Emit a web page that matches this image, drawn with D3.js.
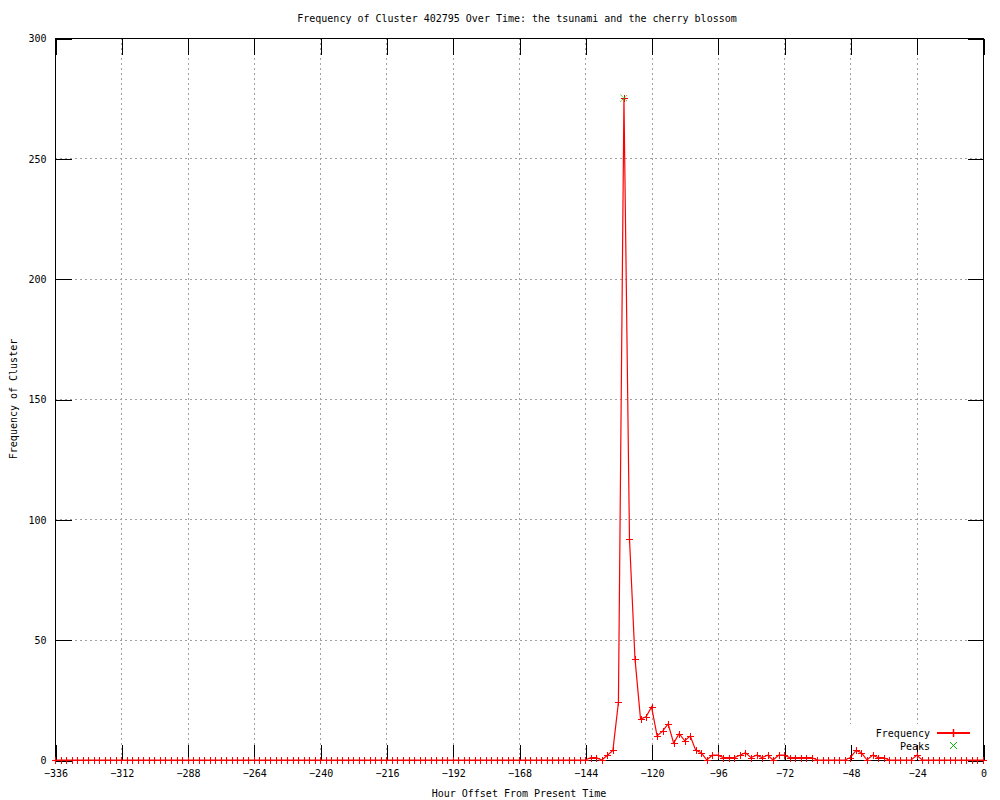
<!DOCTYPE html>
<html>
<head>
<meta charset="utf-8">
<script src="https://cdn.jsdelivr.net/npm/d3@7"></script>
<style>
  html, body { margin: 0; padding: 0; background: #fff; }
  svg { display: block; }
  text { font-family: "DejaVu Sans Mono", "Liberation Mono", monospace; font-size: 10px; fill: #000; }
</style>
</head>
<body>
<svg id="chart" width="1000" height="800"></svg>
<script>
// ---- data ----
const titleText = "Frequency of Cluster 402795 Over Time: the tsunami and the cherry blossom";
const xLabelText = "Hour Offset From Present Time";
const yLabelText = "Frequency of Cluster";
const xTickValues = [-336, -312, -288, -264, -240, -216, -192, -168, -144, -120, -96, -72, -48, -24, 0];
const yTickValues = [0, 50, 100, 150, 200, 250, 300];
const hours = d3.range(-336, 1, 2); // category positions: every 2 hours
const frequency = [
  0,0,0,0,0,0,0,0,0,0,0,0,0,0,0,0,0,0,0,0,0,0,0,0,
  0,0,0,0,0,0,0,0,0,0,0,0,0,0,0,0,0,0,0,0,0,0,0,0,
  0,0,0,0,0,0,0,0,0,0,0,0,0,0,0,0,0,0,0,0,0,0,0,0,
  0,0,0,0,0,0,0,0,0,0,0,0,0,0,0,0,0,0,0,0,0,0,0,0,
  0,1,1,0,2,4,24,275,92,42,17,18,
  22,10,12,15,7,11,8,10,4,3,0,2,
  2,1,1,1,2,3,1,2,1,2,0,2,
  2,1,1,1,1,1,0,0,0,0,0,0,
  1,4,3,0,2,1,1,0,0,0,0,0,
  2,0,0,0,0,0,0,0,0,0,0,0,
  0
];
const peakHours = [-130];
const peakValues = [275];

// ---- layout ----
const svg = d3.select("#chart");
const L = 55, R = 983, T = 38, B = 760;
const x = d3.scaleLinear().domain([-336, 0]).range([L, R]);
const y = d3.scaleLinear().domain([0, 300]).range([B, T]);
const tickLen = 16;

const data = hours.map((h, i) => ({h, v: frequency[i]}));
const peaks = peakHours.map((h, i) => ({h, v: peakValues[i]}));

// grid
const grid = svg.append("g").attr("stroke", "#a0a0a0").attr("stroke-width", 1)
  .attr("stroke-dasharray", "2,3").attr("shape-rendering", "crispEdges");
xTickValues.filter(v => v !== -336 && v !== 0).forEach(v => {
  grid.append("line").attr("x1", Math.round(x(v)) + 0.5).attr("x2", Math.round(x(v)) + 0.5)
    .attr("y1", T).attr("y2", B);
});
yTickValues.filter(v => v !== 0 && v !== 300).forEach(v => {
  grid.append("line").attr("y1", Math.round(y(v)) + 0.5).attr("y2", Math.round(y(v)) + 0.5)
    .attr("x1", L).attr("x2", R);
});

// key area blanks the grid
svg.append("rect").attr("x", 846).attr("y", 724).attr("width", 132).attr("height", 35).attr("fill", "#fff");

// axes with inward ticks (bottom/top/left/right)
const axB = d3.axisBottom(x).tickValues(xTickValues).tickSize(-tickLen).tickPadding(tickLen + 6);
const gB = svg.append("g").attr("transform", `translate(0.5,${B + 0.5})`).call(axB);
const axT = d3.axisTop(x).tickValues(xTickValues).tickSize(-tickLen).tickFormat("");
const gT = svg.append("g").attr("transform", `translate(0.5,${T + 0.5})`).call(axT);
const axLft = d3.axisLeft(y).tickValues(yTickValues).tickSize(-tickLen).tickPadding(9);
const gL = svg.append("g").attr("transform", `translate(${L + 0.5},0.5)`).call(axLft);
const axRt = d3.axisRight(y).tickValues(yTickValues).tickSize(-tickLen).tickFormat("");
const gR = svg.append("g").attr("transform", `translate(${R + 0.5},0.5)`).call(axRt);
[gB, gT, gL, gR].forEach(g => {
  g.select(".domain").remove();
  g.selectAll(".tick line").attr("stroke", "#000").attr("shape-rendering", "crispEdges");
  g.selectAll("text").attr("font-family", null).attr("font-size", null).attr("fill", "#000");
  g.attr("font-family", null).attr("font-size", null);
});
gB.selectAll(".tick text").attr("dy", "0.35em").attr("y", 13);
gB.selectAll(".tick text").text(d => d < 0 ? "\u2212" + Math.abs(d) : d);

// border
svg.append("rect").attr("x", L + 0.5).attr("y", T + 0.5).attr("width", R - L).attr("height", B - T)
  .attr("fill", "none").attr("stroke", "#000").attr("stroke-width", 1).attr("shape-rendering", "crispEdges");

// frequency line
const line = d3.line().x(d => x(d.h)).y(d => y(d.v));
svg.append("path").datum(data).attr("d", line).attr("fill", "none").attr("stroke", "#ff0000").attr("stroke-width", 1.2);

// plus markers
const ms = 3.5;
const plus = svg.append("g").attr("stroke", "#ff0000").attr("stroke-width", 1).attr("shape-rendering", "crispEdges");
data.forEach(d => {
  const px = Math.round(x(d.h)) + 0.5, py = Math.round(y(d.v)) + 0.5;
  plus.append("line").attr("x1", px - ms).attr("x2", px + ms).attr("y1", py).attr("y2", py);
  plus.append("line").attr("x1", px).attr("x2", px).attr("y1", py - ms).attr("y2", py + ms);
});

// peaks (green X)
const px = svg.append("g").attr("stroke", "#00c000").attr("stroke-width", 1).attr("stroke-dasharray", "1.5,1");
peaks.forEach(d => {
  const cx = x(d.h), cy = y(d.v);
  px.append("line").attr("x1", cx - ms).attr("x2", cx + ms).attr("y1", cy - ms).attr("y2", cy + ms);
  px.append("line").attr("x1", cx - ms).attr("x2", cx + ms).attr("y1", cy + ms).attr("y2", cy - ms);
});

// legend
svg.append("text").attr("x", 930).attr("y", 733).attr("dy", "0.35em").attr("text-anchor", "end").text("Frequency");
svg.append("line").attr("x1", 937).attr("x2", 970).attr("y1", 733).attr("y2", 733).attr("stroke", "#ff0000").attr("stroke-width", 2);
svg.append("line").attr("x1", 953.5).attr("x2", 953.5).attr("y1", 729).attr("y2", 737).attr("stroke", "#ff0000").attr("stroke-width", 1.5);
svg.append("text").attr("x", 930).attr("y", 746).attr("dy", "0.35em").attr("text-anchor", "end").text("Peaks");
const lx = 953.5, ly = 745.5;
svg.append("line").attr("x1", lx - ms).attr("x2", lx + ms).attr("y1", ly - ms).attr("y2", ly + ms).attr("stroke", "#00c000");
svg.append("line").attr("x1", lx - ms).attr("x2", lx + ms).attr("y1", ly + ms).attr("y2", ly - ms).attr("stroke", "#00c000");

// titles
svg.append("text").attr("x", (L + R) / 2 - 2).attr("y", 18).attr("dy", "0.35em").attr("text-anchor", "middle").text(titleText);
svg.append("text").attr("x", (L + R) / 2).attr("y", 793).attr("dy", "0.35em").attr("text-anchor", "middle").text(xLabelText);
svg.append("text").attr("transform", `translate(13,${(T + B) / 2}) rotate(-90)`).attr("dy", "0.35em")
  .attr("text-anchor", "middle").text(yLabelText);
</script>
</body>
</html>
